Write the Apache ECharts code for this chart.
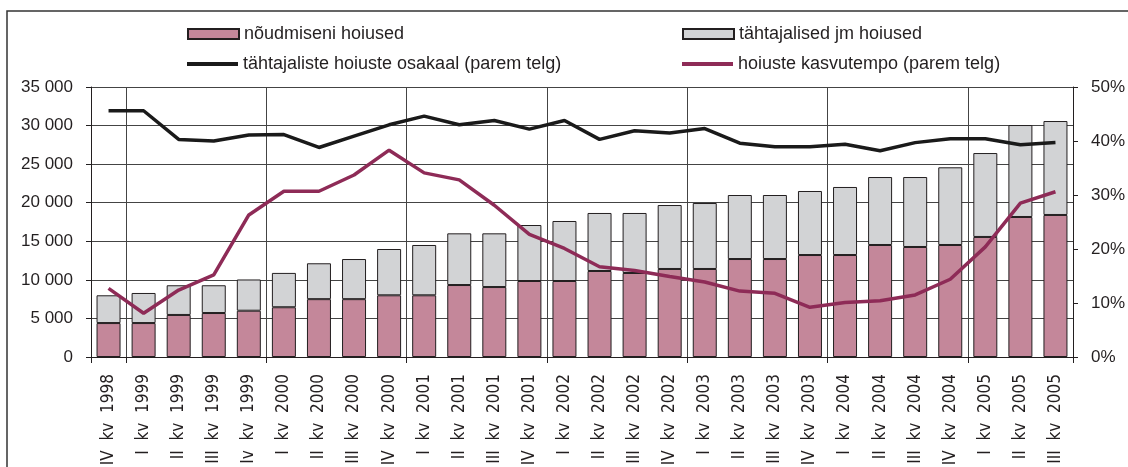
<!DOCTYPE html>
<html>
<head>
<meta charset="utf-8"/>
<title>hoiused</title>
<script src="https://cdn.jsdelivr.net/npm/echarts@6/dist/echarts.min.js"></script>
<style>
  html, body { margin: 0; padding: 0; background: #fff; }
  #chart { width: 1128px; height: 467px; }
</style>
</head>
<body>
<div id="chart"></div>
<script type="text/javascript">
// kvartalid
var categories = ['IV kv 1998','I kv 1999','II kv 1999','III kv 1999','Iv kv 1999',
  'I kv 2000','II kv 2000','III kv 2000','IV kv 2000',
  'I kv 2001','II kv 2001','III kv 2001','IV kv 2001',
  'I kv 2002','II kv 2002','III kv 2002','IV kv 2002',
  'I kv 2003','II kv 2003','III kv 2003','IV kv 2003',
  'I kv 2004','II kv 2004','III kv 2004','IV kv 2004',
  'I kv 2005','II kv 2005','III kv 2005'];

// vasak telg
var demandDeposits = [4400,4400,5450,5700,6000,6450,7500,7500,8000,8000,9330,9070,9850,9850,
  11150,10890,11410,11410,12700,12700,13220,13220,14520,14260,14520,15560,18150,18410];
var timeDeposits = [3600,3900,3850,3600,4050,4450,4650,5200,6000,6520,6700,6960,7260,7780,
  7520,7780,8290,8550,8300,8300,8300,8820,8810,9070,10070,10880,11920,12180];

// parem telg (%)
var timeShare = [45.6,45.6,40.3,40.0,41.1,41.2,38.8,40.9,43.0,44.6,43.0,43.8,42.2,43.8,
  40.3,41.9,41.5,42.3,39.6,38.95,38.95,39.4,38.2,39.7,40.4,40.4,39.3,39.7];
var growthRate = [12.7,8.1,12.4,15.2,26.3,30.7,30.7,33.7,38.3,34.1,32.8,28.1,22.7,20.1,
  16.7,16.0,14.9,13.9,12.2,11.8,9.2,10.1,10.4,11.5,14.4,20.4,28.5,30.6];

var font = "'Liberation Sans', Arial, sans-serif";
var narrowFont = "'Liberation Sans Narrow', 'Arial Narrow', 'DejaVu Sans Condensed', 'Liberation Sans', sans-serif";
var textColor = '#231f20';

var myChart = echarts.init(document.getElementById('chart'));

var legendBase = function (name, left, top, h) {
  return {
    data: [name],
    left: left,
    top: top,
    itemWidth: 51,
    itemHeight: h,
    icon: 'rect',
    textStyle: { fontFamily: font, fontSize: 18, color: textColor },
    selectedMode: false
  };
};

var option = {
  animation: false,
  grid: { left: 91, right: 55, top: 87, bottom: 110, containLabel: false, outerBoundsMode: 'none' },
  legend: [
    legendBase('nõudmiseni hoiused', 182, 20, 10),
    legendBase('tähtajalised jm hoiused', 677, 20, 10),
    legendBase('tähtajaliste hoiuste osakaal (parem telg)', 182, 50, 4),
    legendBase('hoiuste kasvutempo (parem telg)', 677, 50, 4)
  ],
  graphic: [{
    type: 'polyline',
    shape: { points: [[7, 470], [7, 11], [1130, 11]] },
    style: { stroke: '#333', lineWidth: 1.5, fill: null }
  }],
  xAxis: {
    type: 'category',
    data: categories,
    boundaryGap: true,
    axisLine: { show: true, lineStyle: { color: '#231f20', width: 1 } },
    axisTick: {
      show: true,
      length: 6,
      interval: function (i) { return i === 0 || i % 4 === 1; },
      lineStyle: { color: '#231f20' }
    },
    splitLine: {
      show: true,
      interval: function (i) { return i % 4 === 1; },
      lineStyle: { color: '#444', width: 1 }
    },
    axisLabel: {
      interval: 0,
      rotate: 90,
      margin: 17,
      fontFamily: narrowFont,
      fontSize: 17,
      color: textColor,
      formatter: function (v) { return v.split(' ').join('  '); }
    }
  },
  yAxis: [{
    type: 'value',
    min: 0,
    max: 35000,
    interval: 5000,
    axisLine: { show: true, lineStyle: { color: '#231f20' } },
    axisTick: { show: true, length: 5, lineStyle: { color: '#231f20' } },
    splitLine: { show: true, lineStyle: { color: '#444', width: 1 } },
    axisLabel: {
      margin: 18,
      fontFamily: font,
      fontSize: 17,
      color: textColor,
      formatter: function (v) {
        return v >= 1000 ? Math.floor(v / 1000) + ' ' + ('00' + (v % 1000)).slice(-3) : String(v);
      }
    }
  }, {
    type: 'value',
    position: 'right',
    min: 0,
    max: 50,
    interval: 10,
    axisLine: { show: true, lineStyle: { color: '#231f20' } },
    axisTick: { show: true, length: 5, lineStyle: { color: '#231f20' } },
    splitLine: { show: false },
    axisLabel: {
      margin: 18,
      fontFamily: font,
      fontSize: 17,
      color: textColor,
      formatter: '{value}%'
    }
  }],
  series: [{
    name: 'nõudmiseni hoiused',
    type: 'bar',
    stack: 'h',
    barWidth: 24,
    data: demandDeposits,
    itemStyle: { color: '#c4879a', borderColor: '#231f20', borderWidth: 1 }
  }, {
    name: 'tähtajalised jm hoiused',
    type: 'bar',
    stack: 'h',
    barWidth: 24,
    data: timeDeposits,
    itemStyle: { color: '#d2d3d5', borderColor: '#231f20', borderWidth: 1 }
  }, {
    name: 'tähtajaliste hoiuste osakaal (parem telg)',
    type: 'line',
    yAxisIndex: 1,
    data: timeShare,
    symbol: 'none',
    itemStyle: { color: '#1a1a1a' },
    lineStyle: { color: '#1a1a1a', width: 3.5 }
  }, {
    name: 'hoiuste kasvutempo (parem telg)',
    type: 'line',
    yAxisIndex: 1,
    data: growthRate,
    symbol: 'none',
    itemStyle: { color: '#8e2b57' },
    lineStyle: { color: '#8e2b57', width: 3.5 }
  }]
};

myChart.setOption(option);
</script>
</body>
</html>
